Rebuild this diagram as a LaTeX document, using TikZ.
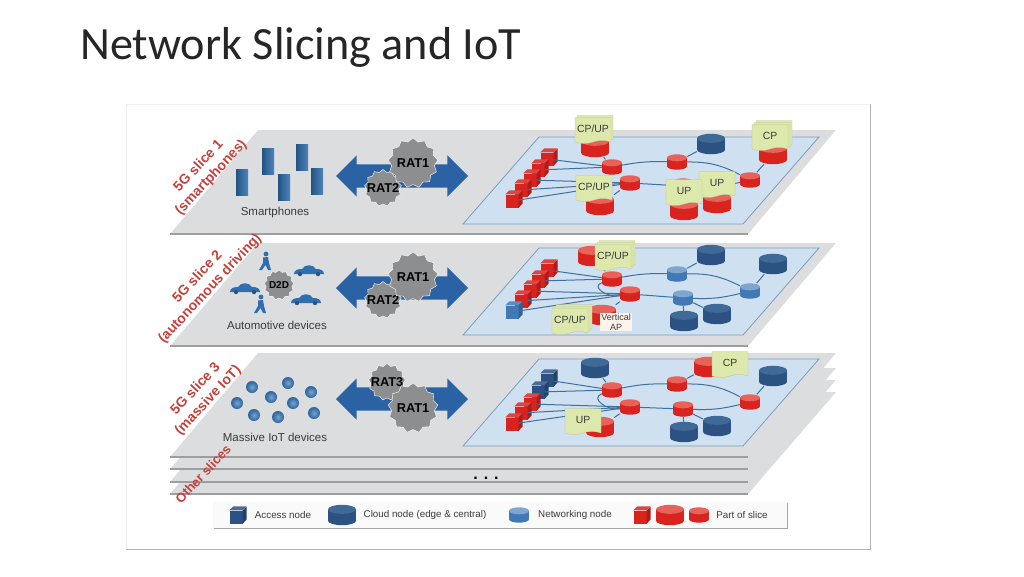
\documentclass[tikz,border=0pt]{standalone}
\usepackage{fontspec}
\setmainfont{Liberation Sans}
\newfontfamily\titlefont{Carlito}
\usetikzlibrary{shapes.geometric, shapes.symbols, shapes.arrows, shadows}

\definecolor{plategray}{HTML}{DCDDDF}
\definecolor{plateedge}{HTML}{9C9E9F}
\definecolor{planeblue}{HTML}{CFE0F1}
\definecolor{planeedge}{HTML}{7C9DBE}
\definecolor{slicered}{HTML}{D8231E}
\definecolor{sliceredtop}{HTML}{E9625A}
\definecolor{clouddark}{HTML}{2C5283}
\definecolor{cloudtop}{HTML}{3F6A98}
\definecolor{netblue}{HTML}{4079B5}
\definecolor{nettop}{HTML}{7FA6CE}
\definecolor{devblue}{HTML}{2F6FB0}
\definecolor{arrowblue}{HTML}{2B62A4}
\definecolor{edgeblue}{HTML}{3F709F}
\definecolor{notegreen}{HTML}{DCE8AC}
\definecolor{labelred}{HTML}{C5413B}
\definecolor{geargray}{HTML}{8D8E90}
\definecolor{textgray}{HTML}{3A3A3A}

\tikzset{
  netedge/.style={draw=edgeblue, line width=1pt},
  notebox/.style={shape=tape, tape bend top=none, tape bend height=3pt, fill=notegreen, draw=notegreen!85!black,
    line width=0.3pt, minimum width=36pt, minimum height=26pt, inner sep=0pt, text=textgray,
    font=\fontsize{10.4}{12}\selectfont},
  stacknote/.style={notebox, double copy shadow={shadow xshift=2pt, shadow yshift=2pt}},
  gearnode/.style={shape=star, star points=13, star point ratio=1.16, fill=geargray, draw=white, line width=0.4pt,
    inner sep=0pt, minimum size=#1},
  gearlabel/.style={font=\fontsize{12.8}{14}\selectfont\bfseries, text=black, inner sep=0pt},
  biglabel/.style={font=\fontsize{14}{17}\selectfont\bfseries, text=labelred, align=center, rotate=47, inner sep=0pt},
  devlabel/.style={font=\fontsize{11.5}{13}\selectfont, text=textgray, inner sep=0pt},
  legendlabel/.style={font=\fontsize{9.8}{11}\selectfont, text=textgray, inner sep=0pt},
  dualarrow/.style={shape=double arrow, double arrow head extend=9pt, minimum height=132pt,
    inner xsep=0pt, inner ysep=11.5pt, fill=arrowblue},
  phonenode/.style={rectangle, minimum width=12pt, minimum height=26pt, inner sep=0pt, left color=devblue!75!black, right color=devblue!85!white},
  dotnode/.style={circle, minimum size=12pt, inner sep=0pt, inner color=devblue!65!white, outer color=devblue!90!black},
  carpic/.pic={
    \fill[devblue] (-15,4) .. controls (-15,0) and (-11,-1) .. (-7,-1) .. controls (-4,-6) and (4,-6) .. (7,-1)
      .. controls (11,-1) and (15,0) .. (15,4) -- cycle;
    \fill[clouddark] (-9,4) circle (2.2) (9,4) circle (2.2);
  },
  personpic/.pic={
    \fill[devblue] (1,-8) circle (2.4);
    \fill[devblue] (-2,-4.5) -- (3,-5) -- (4,1) -- (6,8) -- (3,8) -- (0.5,3) -- (-3,8) -- (-6,8) -- (-2,1) -- cycle;
  }
}

% Grey slice plate: top and bottom height
\newcommand{\grayplate}[2]{
  \fill[plategray] (258,#1) -- (836,#1) -- (748,#2) -- (170,#2) -- cycle;
  \draw[plateedge, line width=1.2pt] (170,#2) -- (748,#2);
}
% Blue plane of the network, shifted down by #1
\newcommand{\blueplane}[1]{
  \filldraw[fill=planeblue, draw=planeedge, line width=0.8pt] (539,137+#1) -- (819,137+#1) -- (743,224+#1) -- (463,224+#1) -- cycle;
}
% Cube: name, position, colour
\newcommand{\cubenode}[3]{
  \node[rectangle, fill=#3, minimum size=13pt, inner sep=0pt, xshift=-2pt, yshift=-2pt] (#1) at (#2) {};
  \fill[#3!85!white] (#1.north west) -- ++(4,-4) -- ++(13,0) -- (#1.north east) -- cycle;
  \fill[#3!80!black] (#1.north east) -- ++(4,-4) -- ++(0,13) -- (#1.south east) -- cycle;
}
% Drum: name, position, width, height, end radius, body colour, top colour
\newcommand{\drumnode}[7]{
  \node[rectangle, minimum width=#3pt, minimum height=#4pt, inner sep=0pt] (#1) at (#2) {};
  \fill[#6] ([yshift=-#5pt]#1.north west) rectangle ([yshift=#5pt]#1.south east);
  \fill[#6] ([yshift=#5pt]#1.south) ellipse [x radius=#3/2, y radius=#5];
  \fill[#7] ([yshift=-#5pt]#1.north) ellipse [x radius=#3/2, y radius=#5];
}
\newcommand{\redcloud}[2]{\drumnode{#1}{#2}{28}{20}{4.5}{slicered}{sliceredtop}}
\newcommand{\bluecloud}[2]{\drumnode{#1}{#2}{28}{20}{4.5}{clouddark}{cloudtop}}
\newcommand{\redrouter}[2]{\drumnode{#1}{#2}{20}{15}{3.5}{slicered}{sliceredtop}}
\newcommand{\bluerouter}[2]{\drumnode{#1}{#2}{20}{15}{3.5}{netblue}{nettop}}
% Edges shared by the three planes
\newcommand{\netedges}[1]{
  \foreach \i/\j in {1/A, 2/A, 3/B, 4/B, 5/B} \draw[netedge] (#1c\i) -- (#1r\j);
  \draw[netedge] (#1rA) to[bend left=6] (#1rC);
  \draw[netedge] (#1rC) to[bend left=14] (#1rD);
  \draw[netedge] (#1rB) -- (#1rE);
  \draw[netedge] (#1rE) to[bend right=8] (#1rD);
}

\begin{document}
\begin{tikzpicture}[x=1pt, y=-1pt]
\useasboundingbox (0,0) rectangle (1024,576);

% Title
\node[anchor=base west, inner sep=0pt, font=\titlefont\fontsize{46.2}{50}\selectfont, text=black!85] (title) at (80,59) {Network Slicing and IoT};

% Frame of the figure
\draw[black!6] (126,549) -- (126,104) -- (870,104);
\draw[black!30] (870,104) -- (870,549) -- (126,549);

% Plates, back to front
\foreach \i/\j in {392/494, 380/482, 368/469} {\grayplate{\i}{\j}}
\grayplate{353}{457}
\grayplate{243}{346}
\grayplate{130}{234}
\foreach \dy in {0, 111, 222} {\blueplane{\dy}}

% Arrows
\foreach \name/\y in {1/176, 2/288, 3/399} \node[dualarrow] (arrow\name) at (402,\y) {};

% Smartphones
\foreach \n/\x/\y in {1/242/182, 2/268/161, 3/302/157, 4/284/187, 5/317/181} \node[phonenode] (phone\n) at (\x,\y) {};
\node[devlabel] (smartphones) at (275,213) {Smartphones};

% Automotive devices
\foreach \x/\y in {309/270, 245/288, 306/299} \pic at (\x,\y) {carpic};
\foreach \x/\y in {265/262, 260/305} \pic at (\x,\y) {personpic};
\node[gearnode=30pt, label={[gearlabel, font=\fontsize{10}{11}\selectfont\bfseries]center:D2D}] (d2d) at (279,285) {};
\node[devlabel] (automotive) at (277,325) {Automotive devices};

% Massive IoT devices
\foreach \n/\x/\y in {1/252/387, 2/288/383, 3/311/392, 4/271/397, 5/293/403, 6/237/403, 7/254/415, 8/278/417, 9/314/413}
  \node[dotnode] (dot\n) at (\x,\y) {};
\node[devlabel] (massive) at (275,437) {Massive IoT devices};

% Gears
\node[gearnode=37pt, label={[gearlabel]center:RAT2}] (grat2a) at (383,188) {};
\node[gearnode=50pt, label={[gearlabel]center:RAT1}] (grat1a) at (413,163) {};
\node[gearnode=37pt, label={[gearlabel]center:RAT2}] (grat2b) at (383,300) {};
\node[gearnode=50pt, label={[gearlabel]center:RAT1}] (grat1b) at (413,277) {};
\node[gearnode=37pt, label={[gearlabel]center:RAT3}] (grat3c) at (387,382) {};
\node[gearnode=50pt, label={[gearlabel]center:RAT1}] (grat1c) at (413,408) {};

% Slice labels
\node[biglabel] (slice1) at (205,172) {5G slice 1\\(smartphones)};
\node[biglabel] (slice2) at (204,283) {5G slice 2\\(autonomous driving)};
\node[biglabel] (slice3) at (202,395) {5G slice 3\\(massive IoT)};
\node[biglabel, font=\fontsize{13}{15}\selectfont\bfseries] (other) at (203,474) {Other slices};
\node[font=\fontsize{16}{18}\selectfont\bfseries, inner sep=0pt] (more) at (486,478) {. . .};

% Network of slice 1
\foreach \n/\x/\y in {1/549/157, 2/540/168, 3/532/178, 4/523/188, 5/514/199} {\cubenode{ac\n}{\x,\y}{slicered}}
\foreach \n/\x/\y in {A/612/167, B/630/183, C/677/162, D/750/180, E/683/186} {\redrouter{ar\n}{\x,\y}}
\foreach \n/\x/\y in {1/595/147, 2/600/205, 3/773/154, 4/717/203, 5/684/210} {\redcloud{ad\n}{\x,\y}}
\bluecloud{ad6}{711,144}
\netedges{a}
\foreach \i/\j in {A/1, B/2, C/6, D/3, E/4, E/5} \draw[netedge] (ar\i) -- (ad\j);
\node[notebox, copy shadow={shadow xshift=2pt, shadow yshift=2pt}] (an1) at (593,129) {CP/UP};
\node[notebox] (an2) at (594,187) {CP/UP};
\node[stacknote] (an3) at (770,136) {CP};
\node[notebox] (an4) at (717,183) {UP};
\node[notebox] (an5) at (684,191) {UP};

% Network of slice 2
\foreach \n/\x/\y in {1/549/268, 2/540/279, 3/532/289, 4/523/299} {\cubenode{bc\n}{\x,\y}{slicered}}
\cubenode{bc5}{514,310}{netblue}
\foreach \n/\x/\y in {A/612/279, B/630/294} {\redrouter{br\n}{\x,\y}}
\foreach \n/\x/\y in {C/677/274, D/750/291, E/683/298} {\bluerouter{br\n}{\x,\y}}
\redcloud{bd1}{592,256}
\redcloud{bd2}{602,315}
\foreach \n/\x/\y in {3/773/264, 4/717/314, 5/684/321, 6/711/255} {\bluecloud{bd\n}{\x,\y}}
\netedges{b}
\foreach \i/\j in {A/1, B/2, C/6, D/3, E/4, E/5} \draw[netedge] (br\i) -- (bd\j);
\draw[netedge] (brA) to[out=200, in=190, looseness=1.4] (brB);
\node[stacknote] (bn1) at (613,256) {CP/UP};
\node[stacknote] (bn2) at (570,320) {CP/UP};
\node[rectangle, fill=red!5!orange!8, inner sep=1pt, align=center, font=\fontsize{9}{9.5}\selectfont, text=textgray] (bap) at (616,322) {Vertical\\AP};

% Network of slice 3
\foreach \n/\x/\y in {1/549/378, 2/540/390} {\cubenode{cc\n}{\x,\y}{clouddark}}
\foreach \n/\x/\y in {3/532/402, 4/523/411, 5/514/422} {\cubenode{cc\n}{\x,\y}{slicered}}
\foreach \n/\x/\y in {A/612/390, B/630/407, C/677/384, D/750/402, E/683/409} {\redrouter{cr\n}{\x,\y}}
\bluecloud{cd1}{595,368}
\redcloud{cd2}{600,427}
\foreach \n/\x/\y in {3/773/376, 4/717/426, 5/684/432} {\bluecloud{cd\n}{\x,\y}}
\redcloud{cd6}{708,367}
\netedges{c}
\foreach \i/\j in {A/1, B/2, C/6, D/3, E/4, E/5} \draw[netedge] (cr\i) -- (cd\j);
\draw[netedge] (crA) to[out=200, in=190, looseness=1.4] (crB);
\node[notebox] (cn1) at (730,363) {CP};
\node[notebox] (cn2) at (583,420) {UP};

% Legend
\node[rectangle, fill=black!2, drop shadow={shadow xshift=0.6pt, shadow yshift=-1.2pt, opacity=0.7}, minimum width=574pt, minimum height=26pt, inner sep=0pt] (legend) at (500,515) {};
\cubenode{lgaccess}{238,515}{clouddark}
\node[legendlabel] (lgtext1) at (283,515) {Access node};
\bluecloud{lgcloud}{342,515}
\node[legendlabel] (lgtext2) at (425,515) {Cloud node (edge \& central)};
\bluerouter{lgnet}{519,515}
\node[legendlabel] (lgtext3) at (575,515) {Networking node};
\cubenode{lgpart1}{642,515}{slicered}
\redcloud{lgpart2}{670,515}
\redrouter{lgpart3}{699,515}
\node[legendlabel] (lgtext4) at (742,515) {Part of slice};

\end{tikzpicture}
\end{document}
